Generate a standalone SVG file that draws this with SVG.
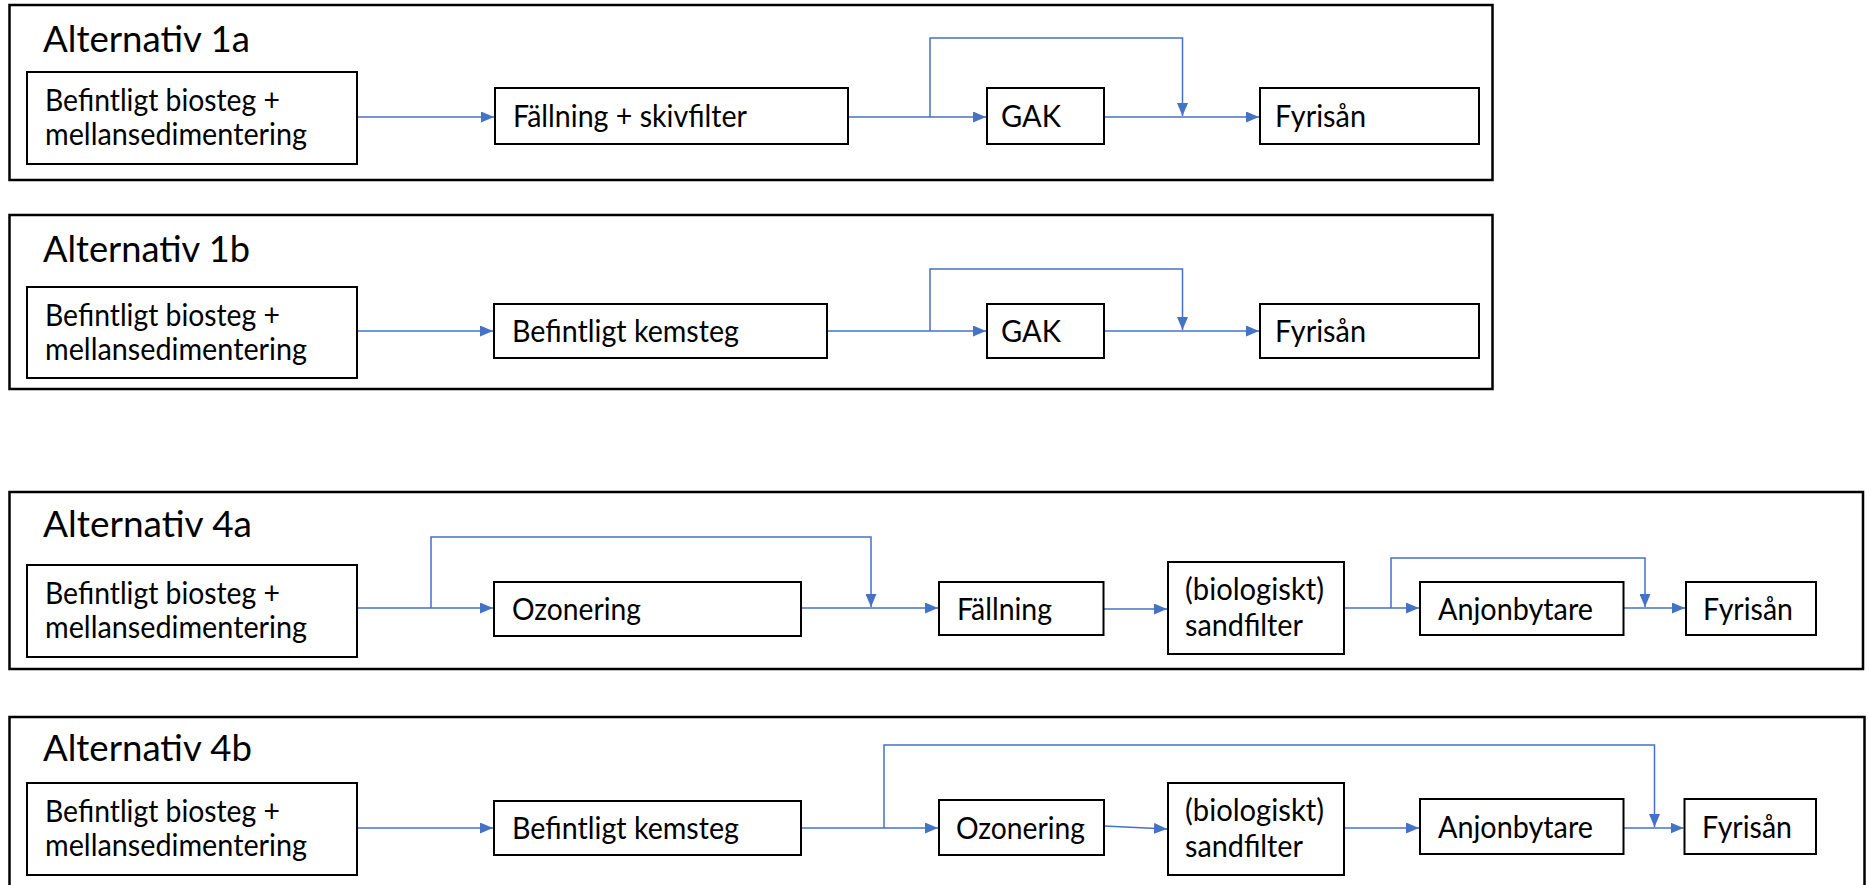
<svg xmlns="http://www.w3.org/2000/svg" width="1868" height="885" viewBox="0 0 1868 885">
<style>
.frame{fill:none;stroke:#000;stroke-width:2.5}
.box{fill:#fff;stroke:#000;stroke-width:2}
.t{font-family:Lato,"Open Sans","Liberation Sans",sans-serif;font-size:30px;fill:#000}
.title{font-size:37px}
.c{fill:none;stroke:#4472C4;stroke-width:1.5;marker-end:url(#ah)}
</style>
<defs>
<marker id="ah" markerUnits="userSpaceOnUse" markerWidth="13" markerHeight="11" refX="13" refY="5.5" orient="auto">
<path d="M0,0 L13,5.5 L0,11 z" fill="#4472C4"/>
</marker>
</defs>
<rect width="1868" height="885" fill="#fff"/>
<g id="panels">
<rect class="frame" x="9.5" y="5" width="1483" height="175"/>
<text class="t title" x="43" y="52" textLength="207" lengthAdjust="spacingAndGlyphs">Alternativ 1a</text>
<rect class="frame" x="9.5" y="215" width="1483" height="174"/>
<text class="t title" x="43" y="262" textLength="207" lengthAdjust="spacingAndGlyphs">Alternativ 1b</text>
<rect class="frame" x="9.5" y="492" width="1853.5" height="177"/>
<text class="t title" x="43" y="537" textLength="209" lengthAdjust="spacingAndGlyphs">Alternativ 4a</text>
<rect class="frame" x="9.5" y="717" width="1855" height="200"/>
<text class="t title" x="43" y="761" textLength="209" lengthAdjust="spacingAndGlyphs">Alternativ 4b</text>
</g>
<g id="connectors">
<path class="c" d="M357,117 H494"/>
<path class="c" d="M848,117 H986"/>
<path class="c" d="M930,117 V38 H1182.5 V116"/>
<path class="c" d="M1104,117 H1259"/>
<path class="c" d="M357,331 H493"/>
<path class="c" d="M827,331 H986"/>
<path class="c" d="M930,331 V269 H1182.5 V330"/>
<path class="c" d="M1104,331 H1259"/>
<path class="c" d="M357,608 H493"/>
<path class="c" d="M431,608 V537 H871 V607"/>
<path class="c" d="M801,608 H938"/>
<path class="c" d="M1103.5,609 H1167"/>
<path class="c" d="M1344,608 H1419"/>
<path class="c" d="M1391,608 V558 H1645 V607"/>
<path class="c" d="M1623.5,608 H1685"/>
<path class="c" d="M357,828 H493"/>
<path class="c" d="M801,828 H938"/>
<path class="c" d="M884,828 V745 H1654.5 V827"/>
<path class="c" d="M1104,826 L1167,829"/>
<path class="c" d="M1344,828 H1419"/>
<path class="c" d="M1623.5,828 H1683.5"/>
</g>
<g id="n1a_bio"><rect class="box" x="27" y="72" width="330" height="92"/>
<text class="t" x="45" y="111" textLength="235" lengthAdjust="spacingAndGlyphs">Befintligt biosteg +</text>
<text class="t" x="45" y="145" textLength="262" lengthAdjust="spacingAndGlyphs">mellansedimentering</text></g>
<g id="n1a_fall"><rect class="box" x="495" y="88" width="353" height="56"/>
<text class="t" x="513" y="127" textLength="234" lengthAdjust="spacingAndGlyphs">Fällning + skivfilter</text></g>
<g id="n1a_gak"><rect class="box" x="987" y="88" width="117" height="56"/>
<text class="t" x="1001" y="127" textLength="60" lengthAdjust="spacingAndGlyphs">GAK</text></g>
<g id="n1a_fyr"><rect class="box" x="1260" y="88" width="219" height="56"/>
<text class="t" x="1275" y="127" textLength="91" lengthAdjust="spacingAndGlyphs">Fyrisån</text></g>
<g id="n1b_bio"><rect class="box" x="27" y="287" width="330" height="91"/>
<text class="t" x="45" y="326" textLength="235" lengthAdjust="spacingAndGlyphs">Befintligt biosteg +</text>
<text class="t" x="45" y="360" textLength="262" lengthAdjust="spacingAndGlyphs">mellansedimentering</text></g>
<g id="n1b_kem"><rect class="box" x="494" y="304" width="333" height="54"/>
<text class="t" x="512" y="342" textLength="227" lengthAdjust="spacingAndGlyphs">Befintligt kemsteg</text></g>
<g id="n1b_gak"><rect class="box" x="987" y="304" width="117" height="54"/>
<text class="t" x="1001" y="342" textLength="60" lengthAdjust="spacingAndGlyphs">GAK</text></g>
<g id="n1b_fyr"><rect class="box" x="1260" y="304" width="219" height="54"/>
<text class="t" x="1275" y="342" textLength="91" lengthAdjust="spacingAndGlyphs">Fyrisån</text></g>
<g id="n4a_bio"><rect class="box" x="27" y="565" width="330" height="92"/>
<text class="t" x="45" y="604" textLength="235" lengthAdjust="spacingAndGlyphs">Befintligt biosteg +</text>
<text class="t" x="45" y="638" textLength="262" lengthAdjust="spacingAndGlyphs">mellansedimentering</text></g>
<g id="n4a_ozon"><rect class="box" x="494" y="582" width="307" height="54"/>
<text class="t" x="512" y="620" textLength="129" lengthAdjust="spacingAndGlyphs">Ozonering</text></g>
<g id="n4a_fall"><rect class="box" x="939" y="582" width="164.5" height="53"/>
<text class="t" x="957" y="620" textLength="95" lengthAdjust="spacingAndGlyphs">Fällning</text></g>
<g id="n4a_sand"><rect class="box" x="1168" y="562" width="176" height="92"/>
<text class="t" x="1185" y="600" textLength="139" lengthAdjust="spacingAndGlyphs">(biologiskt)</text>
<text class="t" x="1185" y="636" textLength="118" lengthAdjust="spacingAndGlyphs">sandfilter</text></g>
<g id="n4a_anjon"><rect class="box" x="1420" y="582" width="203.5" height="53"/>
<text class="t" x="1438" y="620" textLength="155" lengthAdjust="spacingAndGlyphs">Anjonbytare</text></g>
<g id="n4a_fyr"><rect class="box" x="1686" y="582" width="130" height="53"/>
<text class="t" x="1703" y="620" textLength="90" lengthAdjust="spacingAndGlyphs">Fyrisån</text></g>
<g id="n4b_bio"><rect class="box" x="27" y="783" width="330" height="92"/>
<text class="t" x="45" y="822" textLength="235" lengthAdjust="spacingAndGlyphs">Befintligt biosteg +</text>
<text class="t" x="45" y="856" textLength="262" lengthAdjust="spacingAndGlyphs">mellansedimentering</text></g>
<g id="n4b_kem"><rect class="box" x="494" y="801" width="307" height="54"/>
<text class="t" x="512" y="839" textLength="227" lengthAdjust="spacingAndGlyphs">Befintligt kemsteg</text></g>
<g id="n4b_ozon"><rect class="box" x="939" y="800" width="165" height="55"/>
<text class="t" x="956" y="839" textLength="129" lengthAdjust="spacingAndGlyphs">Ozonering</text></g>
<g id="n4b_sand"><rect class="box" x="1168" y="783" width="176" height="92"/>
<text class="t" x="1185" y="821" textLength="139" lengthAdjust="spacingAndGlyphs">(biologiskt)</text>
<text class="t" x="1185" y="857" textLength="118" lengthAdjust="spacingAndGlyphs">sandfilter</text></g>
<g id="n4b_anjon"><rect class="box" x="1420" y="799" width="203.5" height="55"/>
<text class="t" x="1438" y="838" textLength="155" lengthAdjust="spacingAndGlyphs">Anjonbytare</text></g>
<g id="n4b_fyr"><rect class="box" x="1684.5" y="799" width="131.5" height="55"/>
<text class="t" x="1702" y="838" textLength="90" lengthAdjust="spacingAndGlyphs">Fyrisån</text></g>
</svg>
